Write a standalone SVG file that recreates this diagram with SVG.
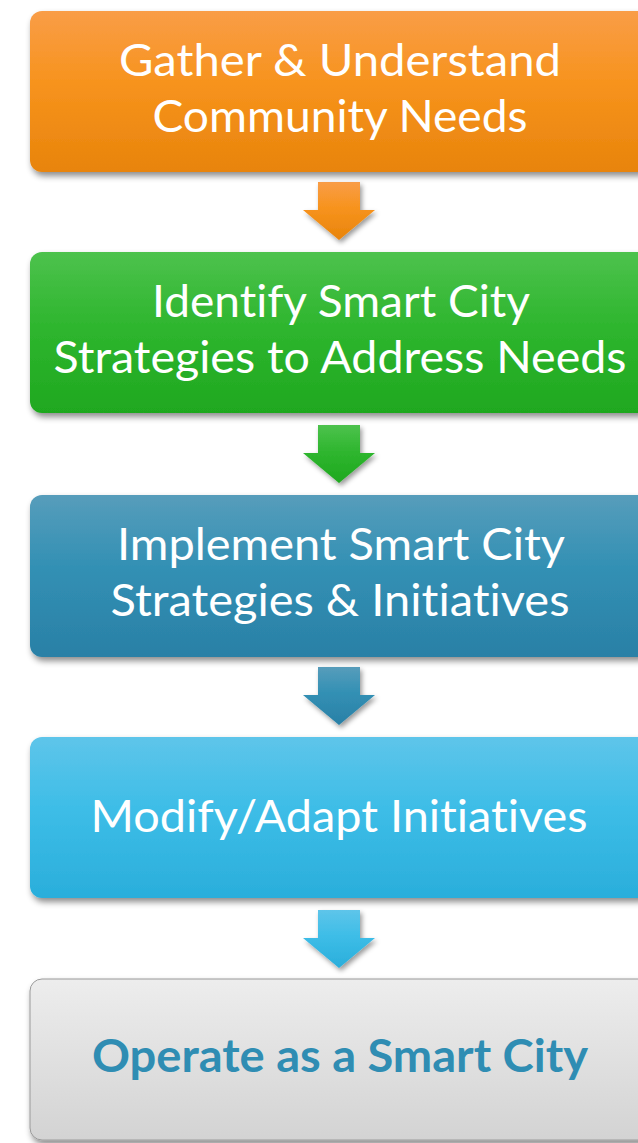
<svg xmlns="http://www.w3.org/2000/svg" width="638" height="1143" viewBox="0 0 638 1143">
  <defs>
    <linearGradient id="gOrange" x1="0" y1="0" x2="0" y2="1">
      <stop offset="0" stop-color="#f99d47"/>
      <stop offset="0.45" stop-color="#f7931d"/>
      <stop offset="1" stop-color="#e8840b"/>
    </linearGradient>
    <linearGradient id="gGreen" x1="0" y1="0" x2="0" y2="1">
      <stop offset="0" stop-color="#4dc24d"/>
      <stop offset="0.45" stop-color="#2fb62f"/>
      <stop offset="1" stop-color="#1fa81f"/>
    </linearGradient>
    <linearGradient id="gTeal" x1="0" y1="0" x2="0" y2="1">
      <stop offset="0" stop-color="#579dbb"/>
      <stop offset="0.45" stop-color="#3290b4"/>
      <stop offset="1" stop-color="#2a80a6"/>
    </linearGradient>
    <linearGradient id="gSky" x1="0" y1="0" x2="0" y2="1">
      <stop offset="0" stop-color="#5ec5ea"/>
      <stop offset="0.45" stop-color="#3dbde7"/>
      <stop offset="1" stop-color="#2aaedb"/>
    </linearGradient>
    <linearGradient id="gGray" x1="0" y1="0" x2="0" y2="1">
      <stop offset="0" stop-color="#ededed"/>
      <stop offset="1" stop-color="#d3d3d3"/>
    </linearGradient>
    <filter id="shadow" x="-10%" y="-10%" width="120%" height="130%">
      <feDropShadow dx="2" dy="4" stdDeviation="3" flood-color="#000" flood-opacity="0.45"/>
    </filter>
    <filter id="ashadow" x="-30%" y="-20%" width="160%" height="150%">
      <feDropShadow dx="2" dy="3" stdDeviation="2.5" flood-color="#000" flood-opacity="0.4"/>
    </filter>
  </defs>
  <style>
    .box { filter: url(#shadow); }
    .lbl { font-family: Lato, "Open Sans", "Liberation Sans", sans-serif; font-size: 45px; fill: #ffffff; text-anchor: middle; font-variant-ligatures: none; font-feature-settings: "liga" 0, "clig" 0; }
    .lblb { font-family: Lato, "Open Sans", "Liberation Sans", sans-serif; font-size: 45px; font-weight: bold; fill: #2f8db3; text-anchor: middle; font-variant-ligatures: none; font-feature-settings: "liga" 0, "clig" 0; }
    .arrow { filter: url(#ashadow); }
  </style>
  <rect x="0" y="0" width="638" height="1143" fill="#ffffff"/>

  <g id="connectors">
    <polygon class="arrow" fill="url(#gOrange)" points="318,182 360,182 360,210 375,210 339,240 303,210 318,210"/>
    <polygon class="arrow" fill="url(#gGreen)" points="318,425 360,425 360,453 375,453 339,483 303,453 318,453"/>
    <polygon class="arrow" fill="url(#gTeal)" points="318,667 360,667 360,695 375,695 339,725 303,695 318,695"/>
    <polygon class="arrow" fill="url(#gSky)" points="318,910 360,910 360,938 375,938 339,968 303,938 318,938"/>
  </g>

  <g id="node-gather">
    <rect class="box" x="30" y="11" width="620" height="161" rx="12" fill="url(#gOrange)"/>
    <text class="lbl" x="340" y="76" textLength="442" lengthAdjust="spacingAndGlyphs">Gather &amp; Understand</text>
    <text class="lbl" x="340" y="132" textLength="375" lengthAdjust="spacingAndGlyphs">Community Needs</text>
  </g>

  <g id="node-identify">
    <rect class="box" x="30" y="252" width="620" height="161" rx="12" fill="url(#gGreen)"/>
    <text class="lbl" x="341" y="317" textLength="378" lengthAdjust="spacingAndGlyphs">Identify Smart City</text>
    <text class="lbl" x="340" y="373" textLength="573" lengthAdjust="spacingAndGlyphs">Strategies to Address Needs</text>
  </g>

  <g id="node-implement">
    <rect class="box" x="30" y="495" width="620" height="162" rx="12" fill="url(#gTeal)"/>
    <text class="lbl" x="341" y="560" textLength="448" lengthAdjust="spacingAndGlyphs">Implement Smart City</text>
    <text class="lbl" x="340" y="616" textLength="459" lengthAdjust="spacingAndGlyphs">Strategies &amp; Initiatives</text>
  </g>

  <g id="node-modify">
    <rect class="box" x="30" y="737" width="620" height="161" rx="12" fill="url(#gSky)"/>
    <text class="lbl" x="339" y="832" textLength="497" lengthAdjust="spacingAndGlyphs">Modify/Adapt Initiatives</text>
  </g>

  <g id="node-operate">
    <rect class="box" x="30" y="979" width="620" height="161" rx="12" fill="url(#gGray)" stroke="#9a9a9a" stroke-width="1"/>
    <text class="lblb" x="340" y="1072" textLength="496" lengthAdjust="spacingAndGlyphs">Operate as a Smart City</text>
  </g>
</svg>
